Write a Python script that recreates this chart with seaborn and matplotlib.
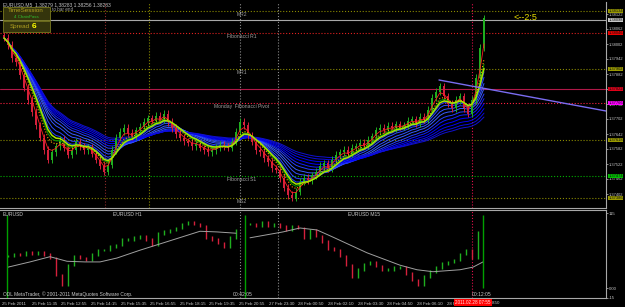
import numpy as np
import pandas as pd
import matplotlib
matplotlib.use("Agg")
import matplotlib.pyplot as plt
from matplotlib.patches import Rectangle
import seaborn as sns

# ---------------- data ----------------
close = [
    1.38026, 1.37998, 1.37946, 1.37930, 1.37878, 1.37826, 1.37778, 1.37730, 1.37678, 1.37626,
    1.37578, 1.37538, 1.37570, 1.37594, 1.37618, 1.37586, 1.37558, 1.37578, 1.37610, 1.37594,
    1.37578, 1.37590, 1.37562, 1.37538, 1.37514, 1.37490, 1.37518, 1.37578, 1.37626, 1.37650,
    1.37666, 1.37646, 1.37634, 1.37658, 1.37670, 1.37690, 1.37706, 1.37694, 1.37714, 1.37698,
    1.37722, 1.37690, 1.37666, 1.37642, 1.37626, 1.37614, 1.37606, 1.37594, 1.37602, 1.37586,
    1.37578, 1.37570, 1.37578, 1.37586, 1.37598, 1.37594, 1.37586, 1.37610, 1.37650, 1.37690,
    1.37678, 1.37638, 1.37610, 1.37578, 1.37570, 1.37546, 1.37530, 1.37506, 1.37498, 1.37466,
    1.37426, 1.37398, 1.37386, 1.37410, 1.37450, 1.37466, 1.37458, 1.37478, 1.37490, 1.37514,
    1.37526, 1.37506, 1.37538, 1.37558, 1.37570, 1.37578, 1.37562, 1.37586, 1.37594, 1.37606,
    1.37598, 1.37618, 1.37634, 1.37658, 1.37666, 1.37658, 1.37674, 1.37666, 1.37682, 1.37670,
    1.37678, 1.37694, 1.37702, 1.37686, 1.37710, 1.37698, 1.37738, 1.37786, 1.37810, 1.37834,
    1.37794, 1.37762, 1.37746, 1.37778, 1.37794, 1.37746, 1.37722, 1.37778, 1.37866, 1.37986,
    1.38106]

level_prices = [1.38134, 1.38098, 1.38046, 1.37902, 1.37822, 1.37766, 1.37618, 1.37474, 1.37386]
level_names = ["MR2", "", "Fibonacci R1", "MR1", "", "Monday  Fibonacci Pivot", "", "Fibonacci S1", "MS2"]
level_line_colors = ["#8a8a00", "#a8a8a8", "#e02020", "#8a8a00", "#b01848", "#ff2040", "#8a8a00", "#00b000", "#8a8a00"]
level_line_styles = [":", "-", ":", ":", "-", ":", ":", ":", ":"]
level_box_colors = ["#9a9a00", "#c8c8c8", "#ee0000", "#9a9a00", "#e00018", "#ff00ff", "#9a9a00", "#00c000", "#9a9a00"]

trend_x = [108.75, 150.5]
trend_p = [1.37858, 1.37734]

main_vlines = [25.25, 36.25, 59.0, 68.5, 117.0]
main_vline_colors = ["#8b2a2a", "#8a8a00", "#8c8c8c", "#8c8c8c", "#e0104a"]
lower_vlines = [59.0, 68.5, 117.0]
lower_vline_colors = ["#8c8c8c", "#8c8c8c", "#e0104a"]

h1_vals = [49, 52, 51, 54, 52, 55, 51, 46, 20, 5, 35, 48, 46, 43, 51, 58, 58, 64, 66, 74,
           74, 77, 80, 74, 66, 84, 87, 89, 92, 98, 101, 98, 95, 77, 74, 69, 64, 77, 89]
m15_vals = [98, 95, 100, 95, 97, 94, 90, 95, 92, 77, 89, 80, 71, 61, 58, 49, 35, 18, 28, 37,
            40, 34, 28, 28, 31, 31, 22, 12, 5, 18, 25, 31, 38, 40, 43, 52, 58, 46, 86]
h1_ma_x = [1, 6.5, 11.5, 15.75, 20.25, 24, 28.25, 34, 40.75, 49, 53.25, 58]
h1_ma_v = [32, 40, 48, 41, 40, 40, 46, 58, 71, 87, 86, 84]
m15_ma_x = [61.5, 69.75, 74, 78.25, 82.25, 90.75, 99, 103.25, 107.25, 114, 117.25, 119.75]
m15_ma_v = [77, 86, 92, 89, 78, 54, 35, 28, 25, 28, 32, 40]
green_markers = [0.75, 60.25, 119.75]

time_labels = ["25 Feb 2011", "25 Feb 11:35", "25 Feb 12:55", "25 Feb 14:15", "25 Feb 15:35",
               "25 Feb 16:55", "25 Feb 18:15", "25 Feb 19:35", "25 Feb 20:55", "27 Feb 23:30",
               "28 Feb 00:50", "28 Feb 02:10", "28 Feb 03:30", "28 Feb 04:50", "28 Feb 06:10",
               "28 Feb 07:30"]

# ---------------- style ----------------
sns.set_theme(style="dark", rc={"axes.facecolor": "black", "figure.facecolor": "black",
                                "axes.edgecolor": "#a0a0a0", "axes.grid": False})
plt.rcParams['font.family'] = ['Liberation Sans', 'DejaVu Sans']

W, H = 625, 307
fig = plt.figure(figsize=(W / 100, H / 100), dpi=100, facecolor="black")


def fx(x):
    return x / W


def fy(y):
    return 1 - y / H


ax = fig.add_axes([0, fy(208), fx(606), 206 / H])
axl = fig.add_axes([0, fy(298), fx(606), 88 / H])

for a in (ax, axl):
    a.set_facecolor("black")
    for s in a.spines.values():
        s.set_visible(False)
    a.spines["right"].set_visible(True)
    a.spines["right"].set_color("#a8a8a8")
    a.spines["right"].set_linewidth(0.8)
    a.spines["bottom"].set_visible(True)
    a.spines["bottom"].set_color("#a8a8a8")
    a.spines["bottom"].set_linewidth(0.8)
    a.set_xlim(-1, 150.5)
axl.spines["top"].set_visible(True)
axl.spines["top"].set_color("#a8a8a8")
axl.spines["top"].set_linewidth(0.8)

ax.set_ylim(1.37346, 1.38170)
axl.set_ylim(-15.3, 119.6)

# ---------------- main panel ----------------
c = np.array(close)
idx = np.arange(len(c))
o = np.r_[c[0] + 0.00010, c[:-1]]
up = c >= o
cols = np.where(up, "#1fae1f", "#d4203c")
body_lo = np.minimum(o, c)
body_h = np.maximum(np.abs(c - o), 0.00004)
hi = np.maximum(o, c) + 0.00014
lo = body_lo - 0.00014

for p, lc, ls in zip(level_prices, level_line_colors, level_line_styles):
    ax.axhline(p, color=lc, ls=ls, lw=0.8, zorder=1)
for xv, vc in zip(main_vlines, main_vline_colors):
    ax.axvline(xv, color=vc, ls=":", lw=0.8, zorder=1)

df = pd.DataFrame({"i": idx, "close": c})
ribbon_spans = [8, 10, 13, 16, 20, 24, 29, 35, 42, 50]
blues = sns.blend_palette(["#2040ff", "#3a5cff", "#0000ff", "#1010d0"], len(ribbon_spans))
for sp, col in zip(ribbon_spans, blues):
    df[f"ema{sp}"] = df["close"].ewm(span=sp).mean()
    sns.lineplot(data=df, x="i", y=f"ema{sp}", ax=ax, color=col, lw=0.7, legend=False, zorder=2)

ax.vlines(idx, lo, hi, colors=cols, lw=0.7, zorder=3)
ax.bar(idx, body_h, bottom=body_lo, width=0.7, color=cols, lw=0, zorder=3)

df["ema6"] = df["close"].ewm(span=6).mean()
df["ema3"] = df["close"].ewm(span=3).mean()
df["ema5"] = df["close"].ewm(span=5).mean()
df["ema7"] = df["close"].ewm(span=7).mean()
sns.lineplot(data=df, x="i", y="ema6", ax=ax, color="#00a000", lw=0.7, legend=False, zorder=4)
sns.lineplot(data=df, x="i", y="ema3", ax=ax, color="#ff2020", lw=0.6, legend=False, zorder=4)
sns.lineplot(data=df, x="i", y="ema5", ax=ax, color="#ff9a00", lw=0.8, ls=":", legend=False, zorder=4)
sns.lineplot(data=df, x="i", y="ema7", ax=ax, color="#a6e600", lw=1.1, legend=False, zorder=5)

sns.lineplot(x=trend_x, y=trend_p, ax=ax, color="#7a6cf0", lw=1.0, zorder=5)

for p, name in zip(level_prices, level_names):
    if name:
        ax.annotate(name, xy=(59.5, p), xytext=(0, -1), textcoords="offset points",
                    ha="center", va="top", fontsize=3.6, color="#a0a0a0", zorder=6)

ax.yaxis.tick_right()
ticks = 1.38122 - 0.0006 * np.arange(13)
ax.set_yticks(ticks)
ax.set_yticklabels([f"{t:.5f}" for t in ticks])
ax.tick_params(axis="y", colors="#c8c8c8", labelsize=2.9, length=1.5, pad=0.5, width=0.5)
ax.tick_params(axis="x", bottom=False, labelbottom=False)
ax.set_xlabel("")
ax.set_ylabel("")

for p, bc in zip(level_prices, level_box_colors):
    ax.annotate(f"{p:.5f}", xy=(1.0, p), xycoords=("axes fraction", "data"),
                xytext=(1.6, 0), textcoords="offset points", ha="left", va="center",
                fontsize=2.9, color="#101010", annotation_clip=False,
                bbox=dict(boxstyle="square,pad=0.12", fc=bc, ec="none"), zorder=10)

# ---------------- lower panel ----------------
h1_x = 1 + 1.5 * np.arange(len(h1_vals))
m15_x = 61.5 + 1.5 * np.arange(len(m15_vals))
for xs, vs in ((h1_x, h1_vals), (m15_x, m15_vals)):
    v = np.array(vs, dtype=float)
    pv = np.r_[v[0], v[:-1]]
    bcol = np.where(v >= pv, "#1fae1f", "#d4203c")
    blo = np.minimum(v, pv) - 2
    bhi = np.maximum(v, pv) + 2
    axl.vlines(xs, blo, bhi, colors=bcol, lw=1.0, zorder=3)

sns.lineplot(x=h1_ma_x, y=h1_ma_v, ax=axl, color="#a0a0a0", lw=0.7, zorder=4)
sns.lineplot(x=m15_ma_x, y=m15_ma_v, ax=axl, color="#a0a0a0", lw=0.7, zorder=4)

axl.vlines(green_markers[:2], -15.3, 112, colors="#00a000", lw=1.0, zorder=4)
axl.vlines(green_markers[2:], 0, 112, colors="#00a000", lw=1.0, zorder=4)
for xv, vc in zip(lower_vlines, lower_vline_colors):
    axl.axvline(xv, color=vc, ls=":", lw=0.8, zorder=1)

axl.yaxis.tick_right()
axl.set_yticks([115, 0, -15])
axl.set_yticklabels(["115", "0.00", "-15"])
axl.tick_params(axis="y", colors="#c8c8c8", labelsize=3.1, length=1.5, pad=0.5, width=0.5)
tick_pos = -0.5 + 7.41 * np.arange(len(time_labels))
axl.set_xticks(tick_pos)
axl.set_xticklabels(time_labels, ha="left")
axl.tick_params(axis="x", colors="#c8c8c8", labelsize=3.2, length=2, pad=1, width=0.5)
axl.set_xlabel("")
axl.set_ylabel("")

# ---------------- texts ----------------
fig.text(fx(3), fy(5), "EURUSD,M5  1.38279 1.38283 1.38256 1.38283", fontsize=3.6,
         color="#c0c0c0", va="center", ha="left")
fig.patches.append(Rectangle((fx(3), fy(20)), fx(47), 13 / H, transform=fig.transFigure,
                             fc="#34340c", ec="#7a7a20", lw=0.6, zorder=5))
fig.patches.append(Rectangle((fx(3), fy(32)), fx(47), 11 / H, transform=fig.transFigure,
                             fc="#34340c", ec="#7a7a20", lw=0.6, zorder=5))
fig.text(fx(26), fy(11), "TimeSession", fontsize=4.5, color="#b0a020", ha="center", va="center", zorder=6)
fig.text(fx(26), fy(17), "4 ChainPass", fontsize=3.2, color="#30c030", ha="center", va="center", zorder=6)
fig.text(fx(30), fy(26.5), "Spread", fontsize=4.5, color="#b0a020", ha="right", va="center", zorder=6)
fig.text(fx(32), fy(26.5), "6", fontsize=6, color="#ffff00", ha="left", va="center",
         fontweight="bold", zorder=6)
fig.text(fx(52), fy(9.5), "to bar end", fontsize=3.3, color="#a0a0a0", ha="left", va="center")
fig.text(fx(514), fy(17), "<--2:5", fontsize=6.5, color="#e6dc00", ha="left", va="center")

fig.text(fx(3), fy(214), "EURUSD", fontsize=3.6, color="#c8c8c8", ha="left", va="center")
fig.text(fx(113), fy(215), "EURUSD H1", fontsize=3.6, color="#c8c8c8", ha="left", va="center")
fig.text(fx(348), fy(215), "EURUSD M15", fontsize=3.6, color="#c8c8c8", ha="left", va="center")
fig.text(fx(3), fy(294), "ODL MetaTrader, \u00a9 2001-2011 MetaQuotes Software Corp.", fontsize=3.5,
         color="#c8c8c8", ha="left", va="center")
fig.text(fx(233), fy(294.5), "00:42:05", fontsize=3.6, color="#c8c8c8", ha="left", va="center")
fig.text(fx(472), fy(294.5), "00:12:05", fontsize=3.6, color="#c8c8c8", ha="left", va="center")
fig.text(fx(455), fy(302.5), "2011.02.28 07:55", fontsize=3.3, color="#ffe0e0", ha="left", va="center",
         bbox=dict(boxstyle="square,pad=0.25", fc="#ff0000", ec="none"), zorder=10)
fig.text(fx(492), fy(302.5), "8:50", fontsize=3.2, color="#c8c8c8", ha="left", va="center")

fig.savefig("out.png", dpi=100, facecolor="black")
